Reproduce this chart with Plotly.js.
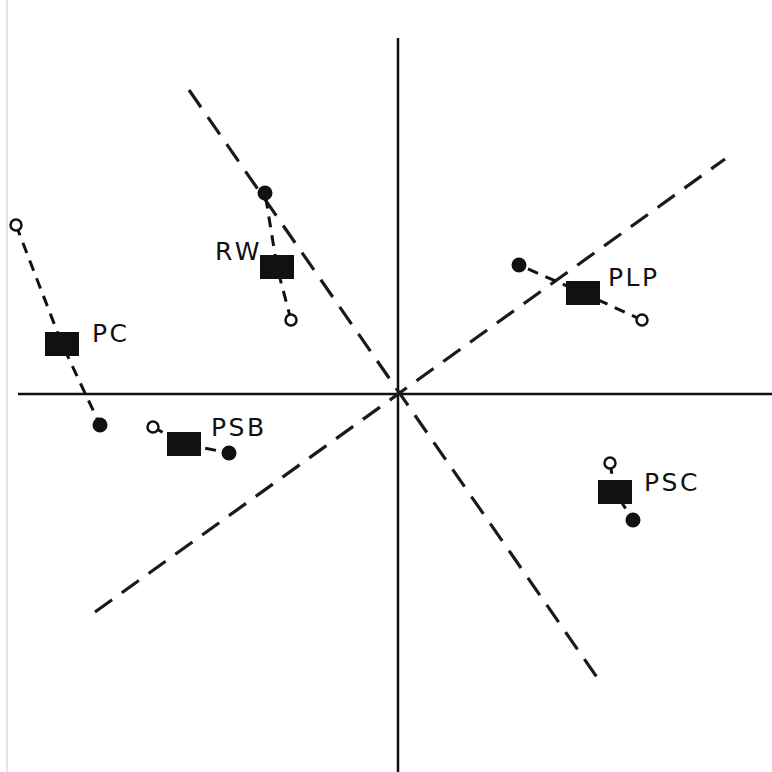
<!DOCTYPE html>
<html>
<head>
<meta charset="utf-8">
<script src="https://cdn.plot.ly/plotly-3.0.1.min.js"></script>
<style>
html,body{margin:0;padding:0;background:#fff;}
#chart{width:772px;height:772px;}
</style>
</head>
<body>
<div id="chart"></div>
<script>
// ================= DATA =================
let groups = ["PC","RW","PLP","PSB","PSC"];

let centerX = [-3.36,-1.21,1.85,-2.14,2.17];
let centerY = [0.50,1.27,1.01,-0.50,-0.98];

let openX = [-3.82,-1.07,2.44,-2.45,2.12];
let openY = [1.69,0.74,0.74,-0.33,-0.69];

let filledX = [-2.98,-1.33,1.21,-1.69,2.35];
let filledY = [-0.31,2.01,1.29,-0.59,-1.26];

let labelX = [-2.89,-1.61,2.34,-1.61,2.72];
let labelY = [0.61,1.43,1.17,-0.33,-0.88];

// axes through origin
let axisHX = [-3.80,3.74];
let axisVY = [-3.78,3.56];

// dashed directions through origin
let dirAX = [-2.09,2.05];
let dirAY = [3.04,-2.92];
let dirBX = [-3.03,3.27];
let dirBY = [-2.18,2.35];

// ================= TRACES =================
let traces = [];

traces.push({x:axisHX,y:[0,0],mode:"lines",line:{color:"#111",width:2.5},hoverinfo:"skip"});
traces.push({x:[0,0],y:axisVY,mode:"lines",line:{color:"#111",width:2.5},hoverinfo:"skip"});

traces.push({x:dirAX,y:dirAY,mode:"lines",line:{color:"#1a1a1a",width:3.2,dash:"21px,12px"},hoverinfo:"skip"});
traces.push({x:dirBX,y:dirBY,mode:"lines",line:{color:"#1a1a1a",width:3.2,dash:"21px,12px"},hoverinfo:"skip"});

// connectors open -> center -> filled
groups.forEach((g,i)=>{
traces.push({
x:[openX[i],centerX[i],filledX[i]],
y:[openY[i],centerY[i],filledY[i]],
mode:"lines",
line:{color:"#111",width:3,dash:"11px,8px"},
hoverinfo:"skip"
});
});

traces.push({
x:openX,y:openY,mode:"markers",
marker:{symbol:"circle",size:11,color:"#fff",line:{color:"#111",width:2.5}}
});

traces.push({
x:filledX,y:filledY,mode:"markers",
marker:{symbol:"circle",size:15,color:"#111",line:{color:"#111",width:0}}
});

// ================= SQUARES =================
let hw = 0.17, hh = 0.12;
let shapes = groups.map((g,i)=>({
type:"rect",xref:"x",yref:"y",
x0:centerX[i]-hw,x1:centerX[i]+hw,
y0:centerY[i]-hh,y1:centerY[i]+hh,
fillcolor:"#111",line:{width:0},layer:"above"
}));

// faint scan edge
shapes.push({type:"line",xref:"paper",yref:"paper",x0:0.009,x1:0.009,y0:0,y1:1,line:{color:"#e4e4e4",width:2}});

// ================= LABELS =================
let annotations = groups.map((g,i)=>({
x:labelX[i],y:labelY[i],text:g.split("").join("\u200a"),showarrow:false,
font:{family:"DejaVu Sans, Arial, sans-serif",size:25,color:"#111"}
}));

let layout = {
width:772,height:772,
margin:{l:0,r:0,t:0,b:0},
paper_bgcolor:"#fff",plot_bgcolor:"#fff",
showlegend:false,
xaxis:{range:[-3.98,3.74],visible:false,fixedrange:true},
yaxis:{range:[-3.78,3.94],visible:false,fixedrange:true},
shapes:shapes,
annotations:annotations
};

Plotly.newPlot("chart",traces,layout,{staticPlot:true});
</script>
</body>
</html>
